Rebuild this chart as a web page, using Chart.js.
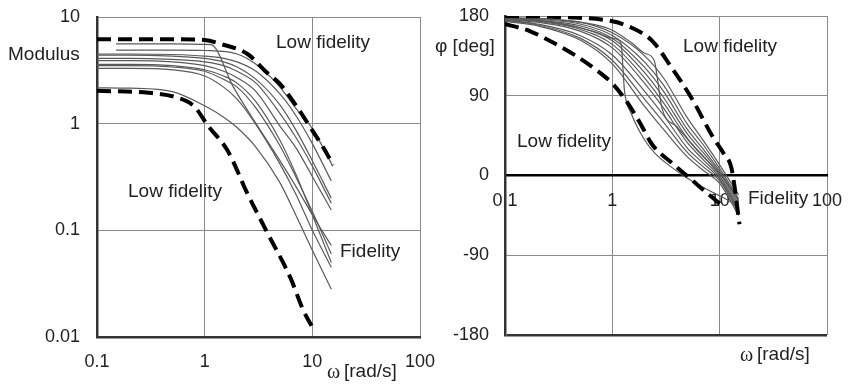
<!DOCTYPE html>
<html>
<head>
<meta charset="utf-8">
<script src="https://cdn.jsdelivr.net/npm/chart.js@4.4.1/dist/chart.umd.min.js"></script>
<style>
  html, body { margin: 0; padding: 0; background: #fff; }
  #wrap { position: relative; width: 849px; height: 386px; overflow: hidden; }
  canvas { position: absolute; top: 0; }
  #modChart { left: 0; }
  #phaseChart { left: 425px; }
</style>
</head>
<body>
<div id="wrap">
  <canvas id="modChart" width="445" height="386"></canvas>
  <canvas id="phaseChart" width="424" height="386"></canvas>
</div>
<script>
// tick labels
const omegaTicks = [0.1, 1, 10, 100];
const modTicks = [0.01, 0.1, 1, 10];
const phaseTicks = [-180, -90, 0, 90, 180];

// modulus curves (omega in rad/s)
const modW = [0.1, 0.2, 0.5, 1, 1.5, 2, 3, 5, 7, 10, 15];
const modE1 = [4.5, 4.5, 4.45, 4.3, 4.1, 3.8, 3.1, 1.9, 1.2, 0.65, 0.29];
const modE2 = [4.4, 4.4, 4.3, 4.1, 3.8, 3.4, 2.6, 1.5, 0.88, 0.45, 0.2];
const modE3 = [4.1, 4.1, 4.0, 3.8, 3.5, 3.1, 2.4, 1.25, 0.75, 0.4, 0.18];
const modE4 = [3.9, 3.9, 3.8, 3.5, 3.1, 2.7, 2.0, 0.95, 0.6, 0.32, 0.155];
const modD1 = [3.5, 3.5, 3.4, 3.1, 2.6, 2.2, 1.4, 0.62, 0.32, 0.15, 0.06];
const modD2 = [3.3, 3.3, 3.2, 2.8, 2.2, 1.7, 0.98, 0.42, 0.22, 0.1, 0.045];
const modD3 = [3.6, 3.6, 3.5, 3.2, 2.8, 2.4, 1.6, 0.7, 0.34, 0.14, 0.05];
const modD4 = [2.17, 2.15, 2.0, 1.47, 1.15, 0.92, 0.6, 0.28, 0.14, 0.065, 0.028];
const modAW = [0.15, 0.5, 1, 1.15, 1.85, 3, 5, 7, 10, 15];
const modA = [5.6, 5.6, 5.55, 5.5, 2.2, 1.0, 0.45, 0.26, 0.14, 0.072];
const modBW = [0.15, 0.5, 1, 2, 3, 5, 7, 10, 15.5];
const modB = [4.9, 4.9, 4.85, 4.5, 3.6, 2.2, 1.4, 0.9, 0.4];
const modHiW = [0.1, 0.5, 1, 1.4, 2.5, 3.8, 5, 7.3, 9.6, 12.6, 15.6];
const modHi = [6.2, 6.2, 6.1, 5.6, 4.5, 3.0, 2.36, 1.41, 0.92, 0.6, 0.41];
const modLoW = [0.1, 0.3, 0.56, 0.8, 1.07, 1.63, 2.5, 3.84, 6.25, 8.2, 10.3];
const modLo = [2.03, 1.95, 1.75, 1.45, 0.96, 0.56, 0.22, 0.094, 0.036, 0.018, 0.0117];

// phase curves (deg)
const phW = [0.1, 0.2, 0.5, 1, 2, 3, 5, 7, 10, 15];
const phS1 = [178, 177, 173, 161, 135, 110, 65, 40, 12, -22];
const phS2 = [178, 176, 171, 158, 128, 102, 58, 35, 8, -26];
const phS3 = [177, 175, 169, 155, 122, 95, 52, 30, 5, -29];
const phS4 = [177, 175, 167, 152, 116, 88, 47, 26, 3, -32];
const phS5 = [176, 174, 165, 148, 110, 82, 42, 22, 0, -35];
const phS6 = [176, 173, 163, 144, 104, 76, 37, 18, -2, -38];
const phS7 = [175, 171, 158, 136, 95, 68, 31, 14, -4, -40];
const phS8 = [175, 170, 155, 130, 86, 60, 26, 10, -6, -42];
const phS9 = [174, 169, 153, 126, 78, 52, 21, 6, -9, -45];
const phAW = [0.1, 0.3, 0.7, 1, 1.2, 1.3, 1.5, 2, 2.5, 3.5, 5, 8, 12, 15];
const phA = [177, 172, 162, 155, 150, 95, 70, 40, 25, 10, -3, -17, -28, -35];
const phBW = [0.1, 0.3, 0.7, 1, 1.5, 2, 2.45, 2.9, 4, 6, 9, 12, 15];
const phB = [178, 176, 170, 164, 150, 138, 130, 76, 55, 30, 8, -10, -28];
const phHiW = [0.1, 0.3, 1, 1.5, 2.35, 3.6, 5.5, 8.4, 11, 12.9, 15.3];
const phHi = [180, 179, 174, 167, 152, 121, 87, 46, 24, 8, -55];
const phLoW = [0.1, 0.17, 0.28, 0.46, 0.71, 1, 1.35, 1.78, 2.35, 3.6, 5.5, 7, 10.8];
const phLo = [171, 163, 150, 135, 119, 104, 84, 61, 35, 14, -5, -16, -35];

Chart.defaults.font.family = '"Liberation Sans", Arial, sans-serif';
Chart.defaults.color = '#222';

function pts(ws, vs) {
    return ws.map((w, i) => ({ x: w, y: vs[i] }));
}

function thin(ws, vs) {
    return { data: pts(ws, vs), borderColor: '#5a5a5a', borderWidth: 1.2, pointRadius: 0,
             fill: false, cubicInterpolationMode: 'monotone' };
}

function dashed(ws, vs) {
    return { data: pts(ws, vs), borderColor: '#000', borderWidth: 4, borderDash: [14, 7],
             pointRadius: 0, fill: false, cubicInterpolationMode: 'monotone' };
}

// free text on the plots
function notes(items) {
    return {
        id: 'notes',
        afterDraw(chart) {
            const c = chart.ctx;
            c.save();
            c.fillStyle = '#222';
            c.textBaseline = 'middle';
            items.forEach(t => {
                c.font = t.font || '19px "Liberation Sans"';
                c.fillText(t.text, t.x, t.y);
            });
            c.restore();
        }
    };
}

const tickFont = { size: 18 };
const setTicks = list => scale => { scale.ticks = list.map(v => ({ value: v })); };
// keep the label overflow out of the layout, so the padding alone places the plot area
const noPad = s => { s.paddingTop = 0; s.paddingBottom = 0; s.paddingLeft = 0; s.paddingRight = 0; };

new Chart(document.getElementById('modChart'), {
    type: 'line',
    data: {
        datasets: [
            dashed(modHiW, modHi), dashed(modLoW, modLo),
            thin(modAW, modA), thin(modBW, modB),
            thin(modW, modE1), thin(modW, modE2), thin(modW, modE3), thin(modW, modE4),
            thin(modW, modD1), thin(modW, modD2), thin(modW, modD3), thin(modW, modD4)
        ]
    },
    options: {
        responsive: false,
        animation: false,
        layout: { padding: { top: 17, right: 25, left: 0, bottom: 0 } },
        plugins: { legend: { display: false }, tooltip: { enabled: false } },
        scales: {
            x: {
                type: 'logarithmic', min: 0.1, max: 100,
                afterBuildTicks: setTicks(omegaTicks),
                afterFit: s => { noPad(s); s.height = 49; },
                ticks: { font: tickFont, padding: 14, maxRotation: 0, autoSkip: false, callback: v => String(v) },
                grid: { color: '#8a8a8a', lineWidth: 1, drawTicks: false },
                border: { color: '#333', width: 2.5 }
            },
            y: {
                type: 'logarithmic', min: 0.01, max: 10,
                afterBuildTicks: setTicks(modTicks),
                afterFit: s => { noPad(s); s.width = 97; },
                ticks: { font: tickFont, padding: 17, autoSkip: false, callback: v => String(v) },
                grid: { color: '#8a8a8a', lineWidth: 1, drawTicks: false },
                border: { color: '#333', width: 2.5 }
            }
        }
    },
    plugins: [notes([
        { text: 'Modulus', x: 8, y: 55 },
        { text: 'Low fidelity', x: 276, y: 43 },
        { text: 'Low fidelity', x: 128, y: 192 },
        { text: 'Fidelity', x: 340, y: 252 },
        { text: 'ω', x: 327, y: 373, font: '20px "Liberation Serif"' },
        { text: '[rad/s]', x: 344, y: 372 }
    ])]
});

new Chart(document.getElementById('phaseChart'), {
    type: 'line',
    data: {
        datasets: [
            dashed(phHiW, phHi), dashed(phLoW, phLo),
            thin(phAW, phA), thin(phBW, phB),
            thin(phW, phS1), thin(phW, phS2), thin(phW, phS3), thin(phW, phS4), thin(phW, phS5),
            thin(phW, phS6), thin(phW, phS7), thin(phW, phS8), thin(phW, phS9)
        ]
    },
    options: {
        responsive: false,
        animation: false,
        layout: { padding: { top: 16, right: 22, left: 0, bottom: 51 } },
        plugins: { legend: { display: false }, tooltip: { enabled: false } },
        scales: {
            x: {
                type: 'logarithmic', min: 0.1, max: 100,
                position: { y: 0 },
                afterBuildTicks: setTicks(omegaTicks),
                afterFit: noPad,
                ticks: { font: tickFont, padding: 15, maxRotation: 0, autoSkip: false, callback: v => String(v) },
                grid: { color: '#8a8a8a', lineWidth: 1, drawTicks: false },
                border: { color: '#000', width: 2.5 }
            },
            y: {
                type: 'linear', min: -180, max: 180,
                afterBuildTicks: setTicks(phaseTicks),
                afterFit: s => { noPad(s); s.width = 80; },
                ticks: { font: tickFont, padding: 16, autoSkip: false, callback: v => String(v) },
                grid: {
                    color: c => (c.tick && c.tick.value === -180 ? '#333' : '#8a8a8a'),
                    lineWidth: c => (c.tick && c.tick.value === -180 ? 2.5 : 1),
                    drawTicks: false
                },
                border: { color: '#333', width: 2.5 }
            }
        }
    },
    plugins: [notes([
        { text: 'φ [deg]', x: 10, y: 47 },
        { text: 'Low fidelity', x: 258, y: 47 },
        { text: 'Low fidelity', x: 92, y: 142 },
        { text: 'Fidelity', x: 323, y: 199 },
        { text: 'ω', x: 315, y: 356, font: '20px "Liberation Serif"' },
        { text: '[rad/s]', x: 332, y: 355 }
    ])]
});
</script>
</body>
</html>
